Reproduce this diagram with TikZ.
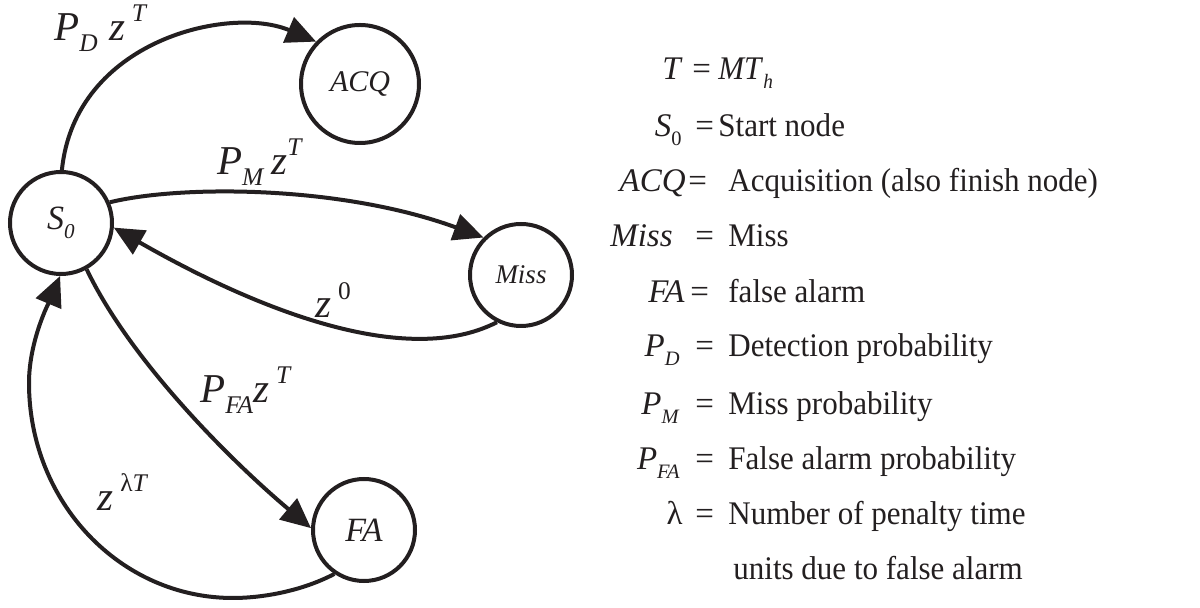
\documentclass[tikz,border=0pt]{standalone}
\usepackage{fontspec}
\setmainfont{Liberation Serif}
\newfontfamily\legfont{Liberation Serif}[FakeStretch=0.94]
\usetikzlibrary{arrows.meta}
\definecolor{ink}{HTML}{231F20}
\newcommand{\lo}[1]{\raisebox{-0.26em}{\scalebox{0.62}{#1}}}
\newcommand{\hi}[1]{\raisebox{0.46em}{\scalebox{0.62}{#1}}}
\begin{document}
\begin{tikzpicture}[x=0.5pt,y=-0.5pt,color=ink,
  state/.style={circle,draw=ink,line width=2pt,inner sep=0pt,minimum size=51pt},
  edge/.style={draw=ink,line width=2pt,-{Triangle[length=15pt,width=13.5pt]}},
  lbl/.style={inner sep=0pt,font=\fontsize{20.5}{24}\selectfont},
  lhs/.style={anchor=base east,inner sep=0pt,font=\fontsize{16.5}{20}\selectfont},
  eqs/.style={anchor=base west,inner sep=0pt,font=\fontsize{16.5}{20}\selectfont},
  rhs/.style={anchor=base west,inner sep=0pt,font=\legfont\fontsize{16.5}{20}\selectfont}]
\useasboundingbox (0,0) rectangle (1200,608);

% states
\node[state,font=\fontsize{17}{20}\selectfont] (S0) at (61,223) {\textit{S\lo{0}}};
\node[state,minimum size=59pt,font=\fontsize{15}{18}\selectfont] (ACQ) at (360,84) {\textit{ACQ}};
\node[state,font=\fontsize{13.5}{16}\selectfont] (Miss) at (521,275) {\textit{Miss}};
\node[state,font=\fontsize{17}{20}\selectfont] (FA) at (364,530) {\textit{FA}};

% edges
\draw[edge] (S0.89) .. controls (75,40) and (230,5) .. (ACQ.136);
\draw[edge] (S0.23) .. controls (180,185) and (340,185) .. (Miss.135);
\draw[edge] (Miss.243) .. controls (400,372) and (240,300) .. (S0.-5);
\draw[edge] (S0.-61) .. controls (130,360) and (230,460) .. (FA.178);
\draw[edge] (FA.236) .. controls (300,592) and (260,598) .. (233,598)
   .. controls (120,598) and (29,502) .. (29,383)
   .. controls (29,340) and (50,300) .. (S0.269);

% edge labels
\node[lbl] (lPD) at (101,28) {\textit{P}\lo{\textit{D}}\;\textit{z}\,\hi{\textit{T}}};
\node[lbl] (lPM) at (260,162) {\textit{P}\lo{\textit{M}}\,\textit{z}\hi{\textit{T}}};
\node[lbl] (lz0) at (333,300) {\textit{z}\,\hi{0}};
\node[lbl] (lPFA) at (246,390) {\textit{P}\lo{\textit{FA}}\textit{z}\,\hi{\textit{T}}};
\node[lbl] (lzl) at (123,492) {\textit{z}\,\hi{λ\textit{T}}};

% legend
\node[lhs] (L1) at (683,80) {\textit{T}};
\node[eqs] (E1) at (692,80) {=};
\node[rhs] (R1) at (718,80) {\textit{MT}\lo{\textit{h}}};

\node[lhs] (L2) at (682,137) {\textit{S}\lo{0}};
\node[eqs] (E2) at (695,137) {=};
\node[rhs] (R2) at (718,137) {Start node};

\node[lhs] (L3) at (686,192) {\textit{ACQ}};
\node[eqs] (E3) at (688,192) {=};
\node[rhs] (R3) at (728,192) {Acquisition (also finish node)};

\node[lhs] (L4) at (673,247) {\textit{Miss}};
\node[eqs] (E4) at (695,247) {=};
\node[rhs] (R4) at (728,247) {Miss};

\node[lhs] (L5) at (685,303) {\textit{FA}};
\node[eqs] (E5) at (690,303) {=};
\node[rhs] (R5) at (728,303) {false alarm};

\node[lhs] (L6) at (680,357) {\textit{P}\lo{\textit{D}}};
\node[eqs] (E6) at (695,357) {=};
\node[rhs] (R6) at (728,357) {Detection probability};

\node[lhs] (L7) at (680,415) {\textit{P}\lo{\textit{M}}};
\node[eqs] (E7) at (695,415) {=};
\node[rhs] (R7) at (728,415) {Miss probability};

\node[lhs] (L8) at (680,470) {\textit{P}\lo{\textit{FA}}};
\node[eqs] (E8) at (695,470) {=};
\node[rhs] (R8) at (728,470) {False alarm probability};

\node[lhs] (L9) at (683,525) {λ};
\node[eqs] (E9) at (695,525) {=};
\node[rhs] (R9) at (728,525) {Number of penalty time};
\node[rhs] (R10) at (733,580) {units due to false alarm};
\end{tikzpicture}
\end{document}
